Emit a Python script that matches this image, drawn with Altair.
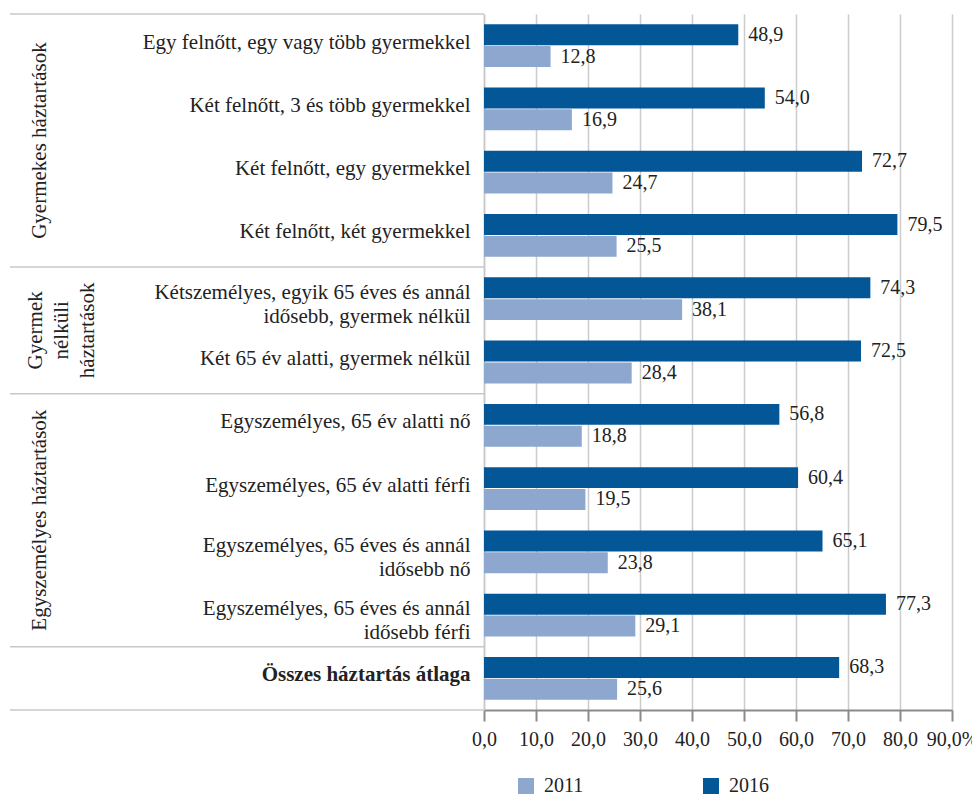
import altair as alt
import pandas as pd

categories = [
    "Egy felnőtt, egy vagy több gyermekkel",
    "Két felnőtt, 3 és több gyermekkel",
    "Két felnőtt, egy gyermekkel",
    "Két felnőtt, két gyermekkel",
    "Kétszemélyes, egyik 65 éves és annál|idősebb, gyermek nélkül",
    "Két 65 év alatti, gyermek nélkül",
    "Egyszemélyes, 65 év alatti nő",
    "Egyszemélyes, 65 év alatti férfi",
    "Egyszemélyes, 65 éves és annál|idősebb nő",
    "Egyszemélyes, 65 éves és annál|idősebb férfi",
    "Összes háztartás átlaga",
]
v2016 = [48.9, 54.0, 72.7, 79.5, 74.3, 72.5, 56.8, 60.4, 65.1, 77.3, 68.3]
v2011 = [12.8, 16.9, 24.7, 25.5, 38.1, 28.4, 18.8, 19.5, 23.8, 29.1, 25.6]
years = ["2011", "2016"]

group_names = ["Gyermekes háztartások", "Gyermek|nélküli|háztartások", "Egyszemélyes háztartások"]
group_start = [0, 4, 6]
group_end = [4, 6, 10]
separators = [0, 4, 6, 10, 11]

FONT = "Liberation Serif"
DARK = "#035797"
LIGHT = "#8DA7CF"

rows = []
for c, a, b in zip(categories, v2011, v2016):
    rows.append({"cat": c, "year": "2011", "value": a})
    rows.append({"cat": c, "year": "2016", "value": b})
df = pd.DataFrame(rows)

gdf = pd.DataFrame({"name": group_names, "start": group_start, "end": group_end})
sdf = pd.DataFrame({"pos": separators})

base = alt.Chart(df).transform_calculate(
    label="replace(format(datum.value, '.1f'), '.', ',')"
)

yenc = alt.Y(
    "cat:N",
    sort=categories,
    scale=alt.Scale(paddingInner=0, paddingOuter=0),
    axis=alt.Axis(
        title=None,
        labelExpr="split(datum.label, '|')",
        labelFont=FONT,
        labelFontSize=21,
        labelColor="#222222",
        labelLineHeight=24,
        labelFontWeight={"expr": "indexof(datum.value, 'Összes') == 0 ? 'bold' : 'normal'"},
        labelOffset={"expr": "indexof(datum.value, '|') >= 0 ? -6 : -3"},
        labelPadding=14,
        labelLimit=0,
        ticks=False,
        domainColor="#c8c8c8",
        domainWidth=1.5,
        minExtent=471,
        maxExtent=471,
    ),
)
yoff = alt.YOffset("year:N", sort=["2016", "2011"], scale=alt.Scale(paddingInner=0.04, paddingOuter=0.47))
xenc = alt.X(
    "value:Q",
    scale=alt.Scale(domain=[0, 90], nice=False),
    axis=alt.Axis(
        title=None,
        values=[0, 10, 20, 30, 40, 50, 60, 70, 80, 90],
        labelExpr="replace(format(datum.value, '.1f'), '.', ',') + (datum.value == 90 ? '%' : '')",
        labelFont=FONT,
        labelFontSize=20,
        labelColor="#222222",
        labelPadding=8,
        labelOverlap=False,
        labelFlush=False,
        tickSize=11,
        tickColor="#8a8a8a",
        tickWidth=2,
        domainColor="#8a8a8a",
        domainWidth=2,
        gridColor="#cccccc",
        gridWidth=1.5,
    ),
)

bars = base.mark_bar().encode(
    y=yenc,
    yOffset=yoff,
    x=xenc,
    color=alt.Color(
        "year:N",
        scale=alt.Scale(domain=years, range=[LIGHT, DARK]),
        legend=alt.Legend(
            orient="none",
            legendX=32,
            legendY=762,
            direction="horizontal",
            title=None,
            symbolType="square",
            symbolSize=256,
            symbolStrokeWidth=0,
            labelFont=FONT,
            labelFontSize=20,
            labelColor="#222222",
            labelOffset=8,
            columnPadding=117,
        ),
    ),
)

texts = base.mark_text(align="left", baseline="middle", dx=10, font=FONT, fontSize=20, color="#222222").encode(
    y=alt.Y("cat:N", sort=categories),
    yOffset=alt.YOffset("year:N", sort=["2016", "2011"]),
    x="value:Q",
    text="label:N",
)

main = alt.layer(bars, texts)

gy = alt.Y("mid:Q", scale=alt.Scale(domain=[0, 11], reverse=True, nice=False, zero=False), axis=None)

gbase = alt.Chart(gdf).transform_calculate(
    mid="(datum.start + datum.end) / 2", lines="split(datum.name, '|')"
)
g_single = gbase.transform_filter("indexof(datum.name, '|') < 0").mark_text(
    angle=270, align="center", baseline="middle", font=FONT, fontSize=21, color="#222222"
).encode(y=gy, x=alt.value(-444), text=alt.Text("lines:N"))
g_multi = gbase.transform_filter("indexof(datum.name, '|') >= 0").mark_text(
    angle=270, align="center", baseline="middle", font=FONT, fontSize=21, lineHeight=26, color="#222222"
).encode(y=gy, x=alt.value(-448), text=alt.Text("lines:N"))

seps = alt.Chart(sdf).mark_rule(color="#c8c8c8", strokeWidth=1.5).encode(
    y=alt.Y("pos:Q", scale=alt.Scale(domain=[0, 11], reverse=True, nice=False, zero=False), axis=None),
    x=alt.value(-474),
    x2=alt.value(0),
)

groups = alt.layer(seps, g_single, g_multi)

chart = (
    alt.layer(main, groups)
    .resolve_scale(y="independent")
    .properties(
        width=468,
        height=696,
        autosize=alt.AutoSizeParams(type="none"),
        padding={"left": 476, "top": 6, "right": 20, "bottom": 86},
    )
    .configure_view(stroke=None)
)

chart.save("out.html", embed_options={"renderer": "svg", "actions": False})
